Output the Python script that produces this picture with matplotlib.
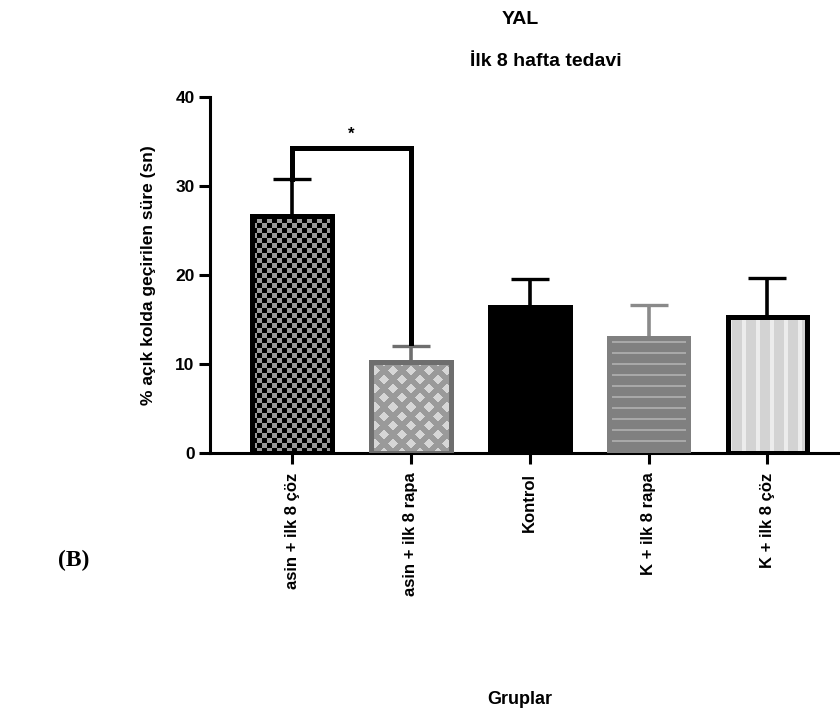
import matplotlib
matplotlib.use('Agg')
import matplotlib.pyplot as plt
import numpy as np

plt.rcParams['font.family'] = ['Liberation Sans', 'DejaVu Sans']
plt.rcParams['font.weight'] = 'bold'

# gruplar, ortalamalar ve SEM degerleri
gruplar = ['asin + ilk 8 çöz', 'asin + ilk 8 rapa', 'Kontrol', 'K + ilk 8 rapa', 'K + ilk 8 çöz']
ortalama = [26.6, 10.25, 16.4, 12.9, 15.3]
sem = [4.2, 1.75, 3.2, 3.7, 4.4]
yticks = [0, 10, 20, 30, 40]
karsilastirma = (0, 1)  # anlamli fark olan iki grup
bracket_y = 34.2
yildiz = '*'

dolgu = ['black', '#9a9a9a', 'black', '#808080', '#d3d3d3']
kenar = ['black', '#6e6e6e', 'black', '#808080', 'black']
hata_renk = ['black', '#6e6e6e', 'black', '#8a8a8a', 'black']
desenler = ['dama', 'karo', None, 'yatay', 'dikey']

fig = plt.figure(figsize=(8.4, 7.17), dpi=100)
ax = fig.add_axes([0.25, 0.368, 0.75, 0.497])
x = np.arange(len(gruplar))
ax.set_xlim(-0.69, 4.61)
ax.set_ylim(0, 40)

# once yuzey, sonra desen, en son kenar cizgisi
bars = ax.bar(x, ortalama, width=0.67, color=dolgu, linewidth=0, zorder=2)


def desen(bar, tur):
    x0, y0 = bar.get_x(), bar.get_y()
    x1, y1 = x0 + bar.get_width(), y0 + bar.get_height()
    (px0, py0), (px1, py1) = ax.transData.transform([(x0, y0), (x1, y1)])
    w, h = int(round(px1 - px0)), int(round(py1 - py0))
    yy, xx = np.mgrid[0:h, 0:w]
    if tur == 'dama':
        maske = (xx // 5 + yy // 5) % 2 == 0
        c1, c2 = '#000000', '#9a9a9a'
    elif tur == 'karo':
        u = (xx + yy) % 18
        v = (xx - yy) % 18
        maske = (u >= 8) & (v >= 8)
        c1, c2 = '#d6d6d6', '#9a9a9a'
    elif tur == 'yatay':
        maske = (yy % 11 < 2) & (xx >= 3) & (xx < w - 3)
        c1, c2 = '#a8a8a8', '#808080'
    else:
        maske = (xx % 14) < 4
        c1, c2 = '#ececec', '#d3d3d3'
    a = np.array(matplotlib.colors.to_rgb(c1))
    b = np.array(matplotlib.colors.to_rgb(c2))
    img = np.where(maske[..., None], a, b)
    im = ax.imshow(img, extent=(x0, x1, y0, y1), origin='lower', aspect='auto',
                   interpolation='nearest', zorder=2.5)
    im.set_clip_path(bar)


for bar, tur in zip(bars, desenler):
    if tur:
        desen(bar, tur)

ax.bar(x, ortalama, width=0.67, fill=False, edgecolor=kenar, linewidth=3.6, zorder=3)

# sadece ust hata cubuklari
for i in range(len(gruplar)):
    ax.errorbar(x[i], ortalama[i], yerr=[[0], [sem[i]]], fmt='none', ecolor=hata_renk[i],
                elinewidth=2.6, capsize=14, capthick=2.4, zorder=1.5)

# anlamlilik cizgisi
i, j = karsilastirma
ax.plot([x[i], x[i], x[j], x[j]],
        [ortalama[i] + sem[i], bracket_y, bracket_y, ortalama[j] + sem[j] + 0.4],
        color='black', lw=3.6, solid_joinstyle='miter', zorder=4, clip_on=False)
ax.text((x[i] + x[j]) / 2, bracket_y + 1.6, yildiz, ha='center', va='center', fontsize=12)

ax.spines[['top', 'right']].set_visible(False)
ax.spines[['left', 'bottom']].set_linewidth(2.2)
ax.set_yticks(yticks)
ax.set_xticks(x, gruplar, rotation=90, va='top', ha='center')
ax.tick_params(axis='y', length=8, width=2.2, labelsize=12.5, pad=3)
ax.tick_params(axis='x', length=8, width=2.2, labelsize=12, pad=6)

fig.text(148 / 840, 1 - 275 / 717, '% açık kolda geçirilen süre (sn)', rotation=90,
         ha='center', va='center', fontsize=12.5)
fig.text(520 / 840, 1 - 700 / 717, 'Gruplar', ha='center', va='center', fontsize=13)
fig.text(520 / 840, 1 - 20 / 717, 'YAL', ha='center', va='center', fontsize=14)
fig.text(546 / 840, 1 - 62 / 717, 'İlk 8 hafta tedavi', ha='center', va='center', fontsize=14)
fig.text(74 / 840, 1 - 560 / 717, '(B)', ha='center', va='center', fontsize=17,
         family='Liberation Serif', weight='bold')

fig.savefig('out.png', dpi=100)
